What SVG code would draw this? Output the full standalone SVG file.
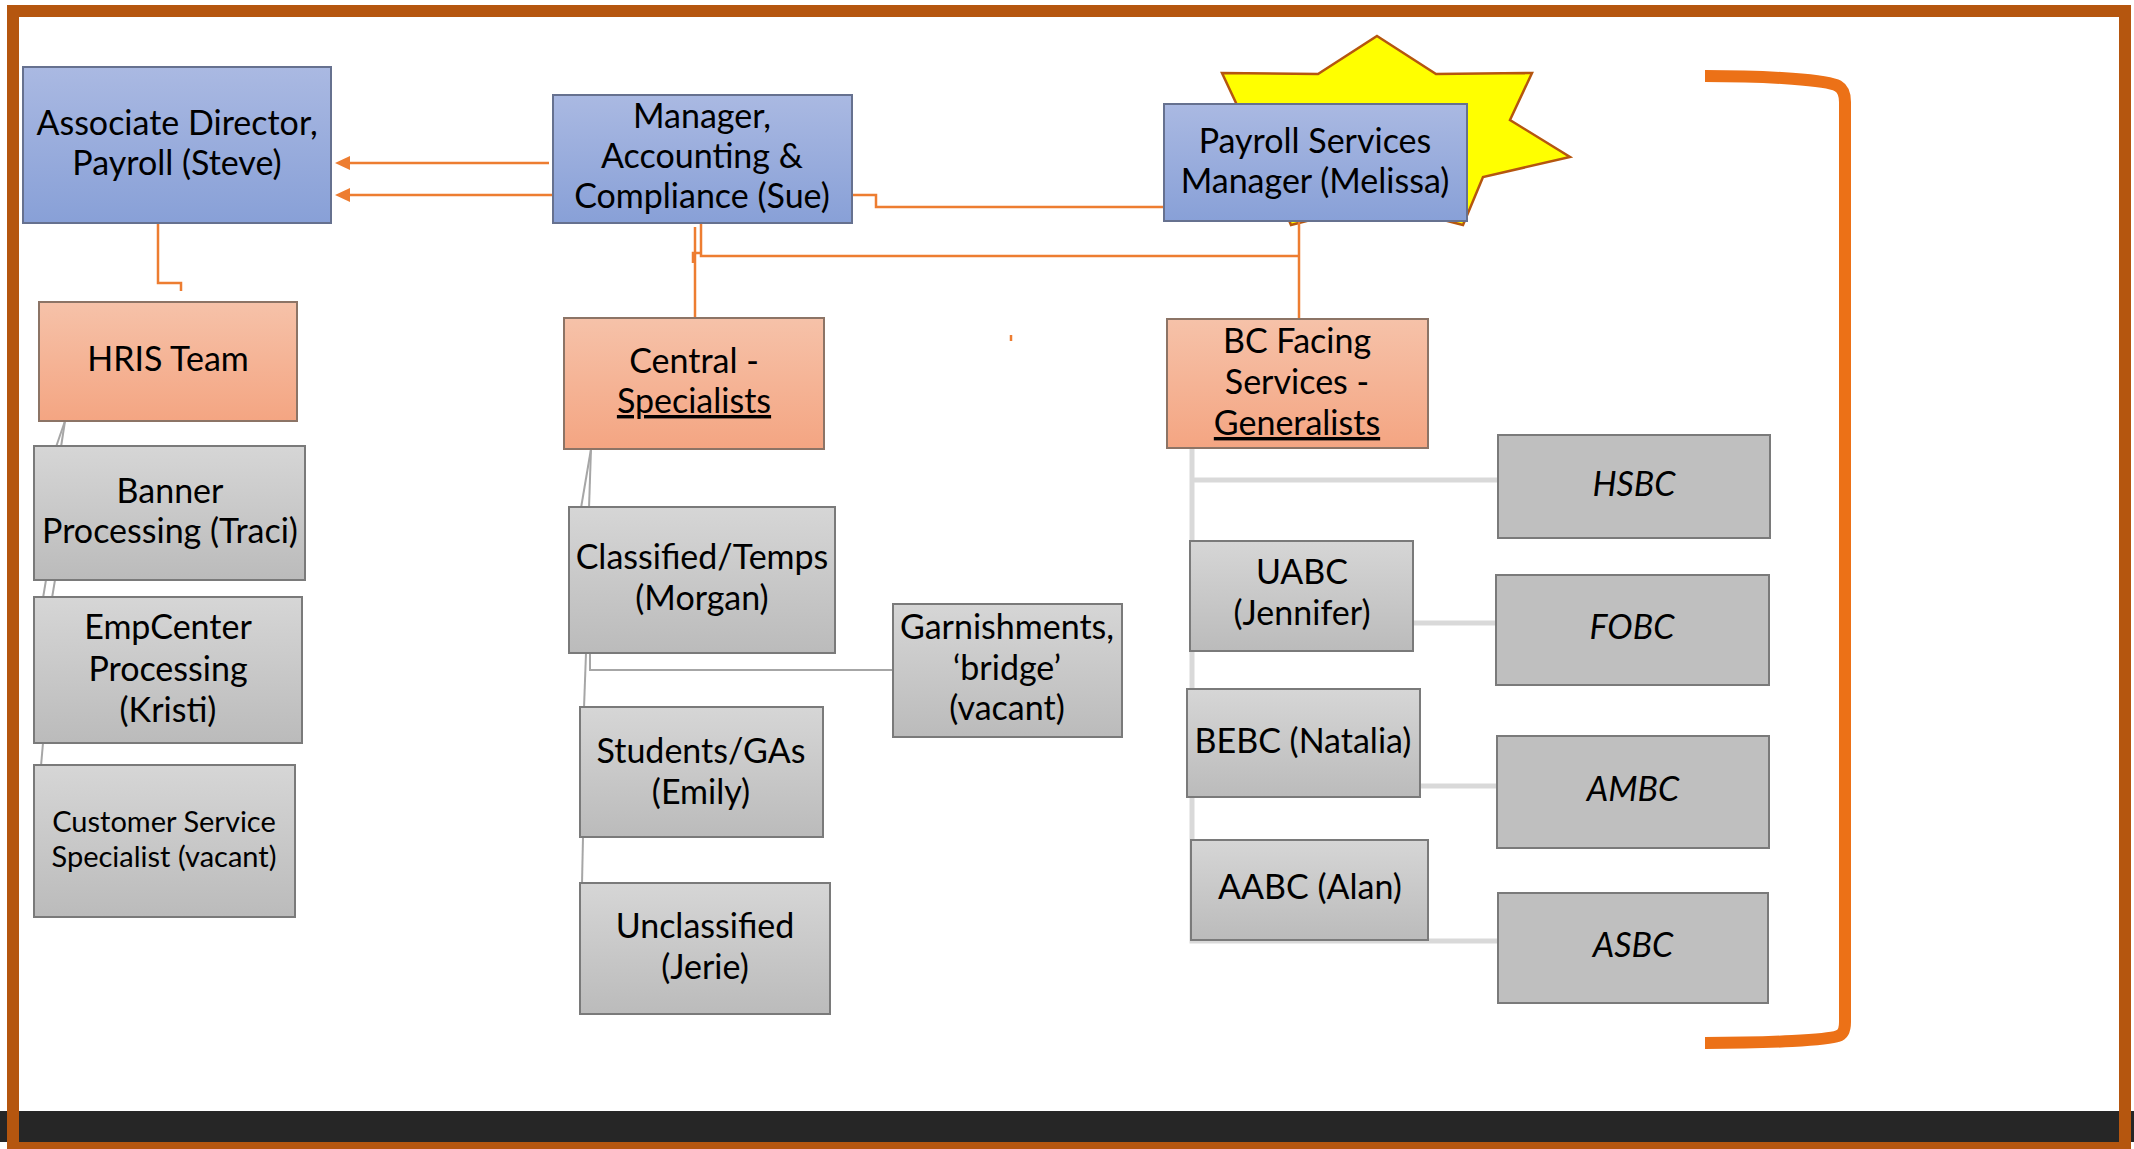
<svg xmlns="http://www.w3.org/2000/svg" width="2134" height="1149" viewBox="0 0 2134 1149">
  <defs>
    <linearGradient id="gBlue" x1="0" y1="0" x2="0" y2="1">
      <stop offset="0" stop-color="#AAB9E2"/>
      <stop offset="1" stop-color="#88A0D7"/>
    </linearGradient>
    <linearGradient id="gOrange" x1="0" y1="0" x2="0" y2="1">
      <stop offset="0" stop-color="#F6C2A9"/>
      <stop offset="1" stop-color="#F4A582"/>
    </linearGradient>
    <linearGradient id="gGray" x1="0" y1="0" x2="0" y2="1">
      <stop offset="0" stop-color="#D6D6D6"/>
      <stop offset="1" stop-color="#BBBBBB"/>
    </linearGradient>
  </defs>
  <style>
    .lbl { font-family: Lato, "Liberation Sans", sans-serif; font-size: 34px; fill: #000; text-anchor: middle; }
    .sm { font-size: 29px; }
    .it { font-style: italic; }
    .ul { text-decoration: underline; }
    .blue { fill: url(#gBlue); stroke: #66718F; stroke-width: 2; }
    .orange { fill: url(#gOrange); stroke: #8C7466; stroke-width: 2; }
    .gray { fill: url(#gGray); stroke: #7A7A7A; stroke-width: 2; }
    .flat { fill: #BFBFBF; stroke: #7A7A7A; stroke-width: 2; }
    .oline { fill: none; stroke: #ED7D31; stroke-width: 2.5; }
    .head { fill: #ED7D31; }
    .gline { fill: none; stroke: #A6A6A6; stroke-width: 2; }
    .wline { fill: none; stroke: #D9D9D9; stroke-width: 5; }
  </style>

  <!-- page background, footer band and outer frame -->
  <rect x="0" y="0" width="2134" height="1149" fill="#FFFFFF"/>
  <rect x="0" y="1111" width="2134" height="31" fill="#262626"/>
  <rect x="13" y="11" width="2112" height="1137" fill="none" stroke="#B5560F" stroke-width="12"/>

  <!-- bracket grouping the business centres -->
  <path d="M1705,76 C1770,76 1828,80 1838,86 Q1845,90 1845,102 L1845,1022 Q1845,1034 1838,1036 C1828,1040 1770,1043 1705,1043" fill="none" stroke="#EC7117" stroke-width="12"/>

  <!-- highlight star behind the payroll services manager -->
  <polygon points="1377,36 1436,74 1532,73 1510,120 1570,157 1483,177 1463,225 1377,203 1291,225 1271,177 1184,157 1244,120 1222,73 1318,74" fill="#FFFF00" stroke="#B5560F" stroke-width="2.5" stroke-linejoin="miter"/>

  <!-- connectors -->
  <g id="connectors">
    <!-- reporting lines to the associate director -->
    <line class="oline" x1="549" y1="163" x2="348" y2="163" stroke-width="3"/>
    <polygon class="head" points="335,163 350,156 350,170"/>
    <line class="oline" x1="553" y1="195" x2="348" y2="195" stroke-width="3"/>
    <polygon class="head" points="335,195 350,188 350,202"/>
    <polyline class="oline" points="158,223 158,283 181,283 181,291"/>
    <polyline class="oline" points="852,195 876,195 876,207 1164,207"/>
    <polyline class="oline" points="701,223 701,256 1299,256"/>
    <line class="oline" x1="1299" y1="207" x2="1299" y2="322"/>
    <line class="oline" x1="695" y1="227" x2="695" y2="320"/>
    <polyline class="oline" points="693,263 693,253 701,253"/>
    <line class="oline" x1="1011" y1="335" x2="1011" y2="341" stroke-width="1.5"/>

    <!-- HRIS team -->
    <line class="gline" x1="65" y1="421" x2="56" y2="447"/>
    <line class="gline" x1="65" y1="421" x2="61" y2="447"/>
    <line class="gline" x1="46" y1="580" x2="43" y2="598"/>
    <line class="gline" x1="55" y1="580" x2="52" y2="598"/>
    <line class="gline" x1="43" y1="743" x2="41" y2="766"/>

    <!-- central specialists -->
    <line class="gline" x1="591" y1="449" x2="581" y2="508"/>
    <line class="gline" x1="591" y1="449" x2="589" y2="508"/>
    <polyline class="gline" points="590,653 590,670 893,670"/>
    <line class="gline" x1="586" y1="653" x2="584" y2="708" stroke-width="3"/>
    <line class="gline" x1="583" y1="837" x2="582" y2="884"/>

    <!-- BC facing generalists -->
    <polyline class="wline" points="1192,448 1192,941 1498,941"/>
    <line class="wline" x1="1192" y1="480" x2="1498" y2="480"/>
    <line class="wline" x1="1413" y1="623" x2="1496" y2="623" stroke-width="7"/>
    <line class="wline" x1="1420" y1="786" x2="1497" y2="786"/>
  </g>

  <!-- leadership -->
  <g id="assoc-director">
    <rect class="blue" x="23" y="67" width="308" height="156"/>
    <text class="lbl" x="177" y="135">Associate Director,</text>
    <text class="lbl" x="177" y="175">Payroll (Steve)</text>
  </g>
  <g id="manager-accounting">
    <rect class="blue" x="553" y="95" width="299" height="128"/>
    <text class="lbl" x="702" y="128">Manager,</text>
    <text class="lbl" x="702" y="168">Accounting &amp;</text>
    <text class="lbl" x="702" y="208">Compliance (Sue)</text>
  </g>
  <g id="payroll-services-manager">
    <rect class="blue" x="1164" y="104" width="303" height="117"/>
    <text class="lbl" x="1315" y="153">Payroll Services</text>
    <text class="lbl" x="1315" y="193">Manager (Melissa)</text>
  </g>

  <!-- teams -->
  <g id="hris-team">
    <rect class="orange" x="39" y="302" width="258" height="119"/>
    <text class="lbl" x="168" y="371">HRIS Team</text>
  </g>
  <g id="central-specialists">
    <rect class="orange" x="564" y="318" width="260" height="131"/>
    <text class="lbl" x="694" y="373">Central -</text>
    <text class="lbl ul" x="694" y="413">Specialists</text>
  </g>
  <g id="bc-facing-generalists">
    <rect class="orange" x="1167" y="319" width="261" height="129"/>
    <text class="lbl" x="1297" y="353">BC Facing</text>
    <text class="lbl" x="1297" y="394">Services -</text>
    <text class="lbl ul" x="1297" y="435">Generalists</text>
  </g>

  <!-- HRIS staff -->
  <g id="banner-processing">
    <rect class="gray" x="34" y="446" width="271" height="134"/>
    <text class="lbl" x="170" y="503">Banner</text>
    <text class="lbl" x="170" y="543">Processing (Traci)</text>
  </g>
  <g id="empcenter-processing">
    <rect class="gray" x="34" y="597" width="268" height="146"/>
    <text class="lbl" x="168" y="639">EmpCenter</text>
    <text class="lbl" x="168" y="681">Processing</text>
    <text class="lbl" x="168" y="722">(Kristi)</text>
  </g>
  <g id="customer-service">
    <rect class="gray" x="34" y="765" width="261" height="152"/>
    <text class="lbl sm" x="164" y="832">Customer Service</text>
    <text class="lbl sm" x="164" y="867">Specialist (vacant)</text>
  </g>

  <!-- central specialists staff -->
  <g id="classified-temps">
    <rect class="gray" x="569" y="507" width="266" height="146"/>
    <text class="lbl" x="702" y="569">Classified/Temps</text>
    <text class="lbl" x="702" y="610">(Morgan)</text>
  </g>
  <g id="students-gas">
    <rect class="gray" x="580" y="707" width="243" height="130"/>
    <text class="lbl" x="701" y="763">Students/GAs</text>
    <text class="lbl" x="701" y="804">(Emily)</text>
  </g>
  <g id="unclassified">
    <rect class="gray" x="580" y="883" width="250" height="131"/>
    <text class="lbl" x="705" y="938">Unclassified</text>
    <text class="lbl" x="705" y="979">(Jerie)</text>
  </g>
  <g id="garnishments">
    <rect class="gray" x="893" y="604" width="229" height="133"/>
    <text class="lbl" x="1007" y="639">Garnishments,</text>
    <text class="lbl" x="1007" y="680">‘bridge’</text>
    <text class="lbl" x="1007" y="720">(vacant)</text>
  </g>

  <!-- generalists -->
  <g id="uabc">
    <rect class="gray" x="1190" y="541" width="223" height="110"/>
    <text class="lbl" x="1302" y="584">UABC</text>
    <text class="lbl" x="1302" y="625">(Jennifer)</text>
  </g>
  <g id="bebc">
    <rect class="gray" x="1187" y="689" width="233" height="108"/>
    <text class="lbl" x="1303" y="753">BEBC (Natalia)</text>
  </g>
  <g id="aabc">
    <rect class="gray" x="1191" y="840" width="237" height="100"/>
    <text class="lbl" x="1310" y="899">AABC (Alan)</text>
  </g>

  <!-- business centres -->
  <g id="hsbc">
    <rect class="flat" x="1498" y="435" width="272" height="103"/>
    <text class="lbl it" x="1634" y="496">HSBC</text>
  </g>
  <g id="fobc">
    <rect class="flat" x="1496" y="575" width="273" height="110"/>
    <text class="lbl it" x="1632" y="639">FOBC</text>
  </g>
  <g id="ambc">
    <rect class="flat" x="1497" y="736" width="272" height="112"/>
    <text class="lbl it" x="1633" y="801">AMBC</text>
  </g>
  <g id="asbc">
    <rect class="flat" x="1498" y="893" width="270" height="110"/>
    <text class="lbl it" x="1633" y="957">ASBC</text>
  </g>
</svg>
